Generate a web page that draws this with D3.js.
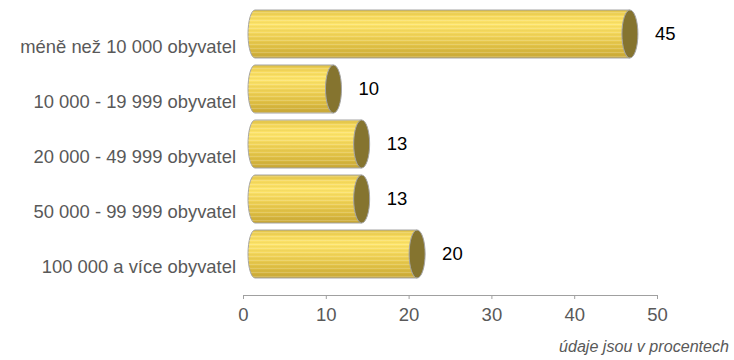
<html>
<head>
<meta charset="utf-8">
<style>
body { margin: 0; background: #fff; }
text { font-family: "Liberation Sans", Arial, sans-serif; }
</style>
</head>
<body>
<div id="chart"></div>
<script src="https://d3js.org/d3.v7.min.js"></script>
<script>
// categories and values (percent)
var categories = ["méně než 10 000 obyvatel", "10 000 - 19 999 obyvatel", "20 000 - 49 999 obyvatel",
                  "50 000 - 99 999 obyvatel", "100 000 a více obyvatel"];
var values = [45.4, 9.6, 13, 13, 19.7];
var tickValues = [0, 10, 20, 30, 40, 50];
var note = "údaje jsou v procentech";

var width = 734, height = 360;

var svg = d3.select("#chart").append("svg")
	.attr("width", width)
	.attr("height", height);

var x = d3.scaleLinear().domain([0, 50]).range([243, 657]);
var y = d3.scaleBand().domain(categories).range([19.5, 294.5]);

var defs = svg.append("defs");
var grad = defs.append("linearGradient")
	.attr("id", "body").attr("x1", 0).attr("y1", 0).attr("x2", 0).attr("y2", 1);
[[0, "#e0c248"], [0.12, "#f6d95c"], [0.3, "#fde46a"], [0.55, "#efd155"], [0.8, "#ddbd42"], [1, "#c8a736"]]
	.forEach(function(s) { grad.append("stop").attr("offset", s[0]).attr("stop-color", s[1]); });

// thin horizontal stripes
var pat = defs.append("pattern")
	.attr("id", "stripes").attr("patternUnits", "userSpaceOnUse")
	.attr("width", 10).attr("height", 4);
pat.append("rect").attr("width", 10).attr("height", 1).attr("fill", "#fff").attr("opacity", 0.18);
pat.append("rect").attr("y", 2).attr("width", 10).attr("height", 1).attr("fill", "#a08420").attr("opacity", 0.08);

var barH = 48, rx = 8, lift = 13;

function cy(i) { return y(categories[i]) + y.bandwidth() / 2 - lift; }

var bars = svg.selectAll(".bar")
	.data(values)
	.enter().append("g")
	.attr("class", "bar");

function bodyPath(d, i) {
	var top = cy(i) - barH / 2, bot = cy(i) + barH / 2;
	var xl = x(0) + 12, xr = x(d) + 11;
	return "M" + xl + "," + top + "L" + xr + "," + top + "L" + xr + "," + bot + "L" + xl + "," + bot +
		"A" + (rx - 1) + "," + (barH / 2) + " 0 0 1 " + xl + "," + top + "Z";
}

bars.append("path")
	.attr("d", bodyPath)
	.attr("fill", "url(#body)")
	.attr("stroke", "#a5a5a5")
	.attr("stroke-width", 1);
bars.append("path")
	.attr("d", bodyPath)
	.attr("fill", "url(#stripes)");

bars.append("ellipse")
	.attr("cx", function(d) { return x(d) + 11; })
	.attr("cy", function(d, i) { return cy(i); })
	.attr("rx", rx)
	.attr("ry", barH / 2)
	.attr("fill", "#85742f")
	.attr("stroke", "#a5a5a5")
	.attr("stroke-width", 1);

bars.append("text")
	.attr("x", function(d) { return x(d) + 36; })
	.attr("y", function(d, i) { return cy(i); })
	.attr("dy", "0.35em")
	.attr("font-size", 18.5)
	.attr("fill", "#000")
	.text(function(d) { return Math.round(d); });

// category labels
svg.selectAll(".cat")
	.data(categories)
	.enter().append("text")
	.attr("class", "cat")
	.attr("x", 236)
	.attr("y", function(d) { return y(d) + y.bandwidth() / 2; })
	.attr("dy", "0.35em")
	.attr("text-anchor", "end")
	.attr("font-size", 18.4)
	.attr("fill", "#595959")
	.text(function(d) { return d; });

// x axis
var axis = svg.append("g")
	.attr("transform", "translate(0,295)")
	.call(d3.axisBottom(x).tickValues(tickValues).tickSizeOuter(0).tickSize(4).tickPadding(9));
axis.select(".domain").attr("stroke", "#a0a0a0");
axis.selectAll(".tick line").attr("stroke", "#a0a0a0");
axis.selectAll(".tick text")
	.attr("font-size", 18.5)
	.attr("font-family", "Liberation Sans, Arial, sans-serif")
	.attr("fill", "#595959");

svg.append("text")
	.attr("x", 729)
	.attr("y", 352)
	.attr("text-anchor", "end")
	.attr("font-size", 16)
	.attr("font-style", "italic")
	.attr("fill", "#595959")
	.attr("textLength", 170)
	.attr("lengthAdjust", "spacingAndGlyphs")
	.text(note);
</script>
</body>
</html>
